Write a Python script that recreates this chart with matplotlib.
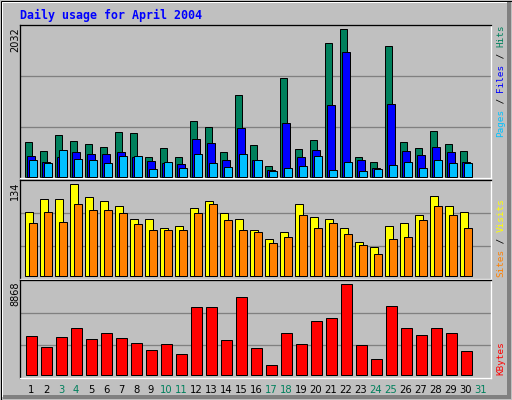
import numpy as np
import matplotlib
matplotlib.use('Agg')
import matplotlib.pyplot as plt
from matplotlib.patches import Rectangle

W, H = 512, 400

days = list(range(1, 32))
weekends = [3, 4, 10, 11, 17, 18, 24, 25, 31]

hits = [477, 354, 574, 491, 450, 409, 615, 601, 271, 395, 271, 766, 684, 340, 1124,
        436, 147, 1358, 381, 505, 1839, 2032, 271, 202, 1798, 477, 395, 629, 450, 354]
files = [285, 202, 271, 340, 312, 312, 340, 271, 216, 188, 175, 519, 464, 230, 670,
         230, 92, 739, 271, 367, 986, 1715, 230, 120, 1000, 354, 299, 409, 340, 202]
pages = [230, 188, 367, 244, 230, 188, 285, 285, 106, 202, 120, 312, 188, 133, 312,
         230, 78, 120, 147, 285, 92, 202, 78, 106, 161, 202, 120, 230, 188, 188]
visits = [93, 112, 112, 134, 115, 109, 103, 83, 83, 71, 73, 99, 109, 92, 84,
          68, 54, 64, 105, 87, 83, 71, 50, 42, 74, 77, 90, 117, 102, 93]
sites = [77, 93, 79, 106, 96, 96, 92, 76, 68, 67, 67, 92, 106, 82, 68,
         64, 48, 58, 90, 71, 77, 61, 45, 32, 55, 58, 82, 102, 89, 71]
kbytes = [3800, 2728, 3703, 4580, 3508, 4093, 3605, 3118, 2436, 3021, 2046, 6626, 6626, 3411, 7600,
          2631, 974, 4093, 3021, 5262, 5554, 8868, 2923, 1559, 6723, 4580, 3898, 4580, 4093, 2339]

BG = '#C0C0C0'
C_HITS = '#00805C'
C_FILES = '#0000FF'
C_PAGES = '#00C0FF'
C_VISITS = '#FFFF00'
C_SITES = '#FF8000'
C_KB = '#FF0000'
GRID = '#808080'

LW = 0.72  # one pixel at 100 dpi


def fx(x):
    return x / W


def fy(y):
    return 1 - y / H


def px(n):
    # pixels -> day units (15 px per day)
    return n / 15.0


fig = plt.figure(figsize=(W / 100, H / 100), dpi=100, facecolor=BG)

# 3d-ish outer frame
fig.add_artist(Rectangle((fx(1), fy(3)), fx(509), 2 / H, transform=fig.transFigure,
                         facecolor='white', edgecolor='none'))
fig.add_artist(Rectangle((fx(1), fy(397)), 2 / W, 394 / H, transform=fig.transFigure,
                         facecolor='white', edgecolor='none'))
fig.add_artist(Rectangle((fx(507), fy(399)), 4 / W, 398 / H, transform=fig.transFigure,
                         facecolor=GRID, edgecolor='none'))
fig.add_artist(Rectangle((fx(3), fy(399)), fx(508), 4 / H, transform=fig.transFigure,
                         facecolor=GRID, edgecolor='none'))
fig.add_artist(Rectangle((0.5 / W, 0.5 / H), 1 - 1 / W, 1 - 1 / H, transform=fig.transFigure,
                         facecolor='none', edgecolor='black', linewidth=LW))

fig.text(fx(20), fy(15), 'Daily usage for April 2004', color='#0000FF',
         family='DejaVu Sans Mono', weight='bold', fontsize=8.4, ha='left', va='center')

left, width = fx(20), 471 / W
xlim = (1 - px(11), 1 - px(11) + px(471))

ax1 = fig.add_axes([left, fy(178), width, 153 / H])
ax2 = fig.add_axes([left, fy(279), width, 99 / H])
ax3 = fig.add_axes([left, fy(378), width, 98 / H])

d = np.arange(1, 31)

ax1.bar(d + px(-2.3), hits, width=px(7.3), color=C_HITS, edgecolor='black', linewidth=LW, zorder=2)
ax1.bar(d + px(0), files, width=px(7.3), color=C_FILES, edgecolor='black', linewidth=LW, zorder=3)
ax1.bar(d + px(2), pages, width=px(7.3), color=C_PAGES, edgecolor='black', linewidth=LW, zorder=4)
ax1.set_ylim(-14, 2091)

ax2.bar(d + px(-1.8), visits, width=px(8.3), color=C_VISITS, edgecolor='black', linewidth=LW, zorder=2)
ax2.bar(d + px(2), sites, width=px(7.3), color=C_SITES, edgecolor='black', linewidth=LW, zorder=3)
ax2.set_ylim(-3.9, 140.3)

ax3.bar(d + px(0.3), kbytes, width=px(10.7), color=C_KB, edgecolor='black', linewidth=LW, zorder=2)
ax3.set_ylim(-263, 9287)

for ax in (ax1, ax2, ax3):
    ax.set_facecolor(BG)
    ax.set_xlim(*xlim)
    ax.set_yticks([])
    ax.set_xticks([])
    for f in (1 / 3, 2 / 3):
        ax.plot([0, 1], [f, f], transform=ax.transAxes, color=GRID, linewidth=LW * 1.3, zorder=1)
    ax.spines['top'].set_color('black')
    ax.spines['left'].set_color('black')
    ax.spines['bottom'].set_color('white')
    ax.spines['right'].set_color('white')
    for s in ax.spines.values():
        s.set_linewidth(LW * 1.3)

# day labels
ax3.set_xticks(days)
ax3.set_xticklabels([str(x) for x in days], family='DejaVu Sans', fontsize=7.2)
ax3.tick_params(axis='x', length=0, pad=5)
for lab, day in zip(ax3.get_xticklabels(), days):
    lab.set_color(C_HITS if day in weekends else 'black')

# max values on the left
for txt, ytop in (('2032', 27), ('134', 182), ('8868', 281)):
    fig.text(fx(15), fy(ytop), txt, rotation=90, rotation_mode='anchor',
             ha='right', va='center', family='DejaVu Sans', fontsize=7, color='black')

# coloured labels on the right
ADV = 5.6


def side_label(parts, ybottom):
    n = 0
    for s, c in parts:
        fig.text(fx(501), fy(ybottom - n * ADV), s, rotation=90, rotation_mode='anchor',
                 ha='left', va='center', family='DejaVu Sans Mono', fontsize=6.7, color=c)
        n += len(s)


side_label([('Pages', C_PAGES), (' / ', 'black'), ('Files', C_FILES),
            (' / ', 'black'), ('Hits', C_HITS)], 137)
side_label([('Sites', C_SITES), (' / ', 'black'), ('Visits', C_VISITS)], 277)
side_label([('KBytes', C_KB)], 375)

fig.savefig('out.png', dpi=100, facecolor=BG)
